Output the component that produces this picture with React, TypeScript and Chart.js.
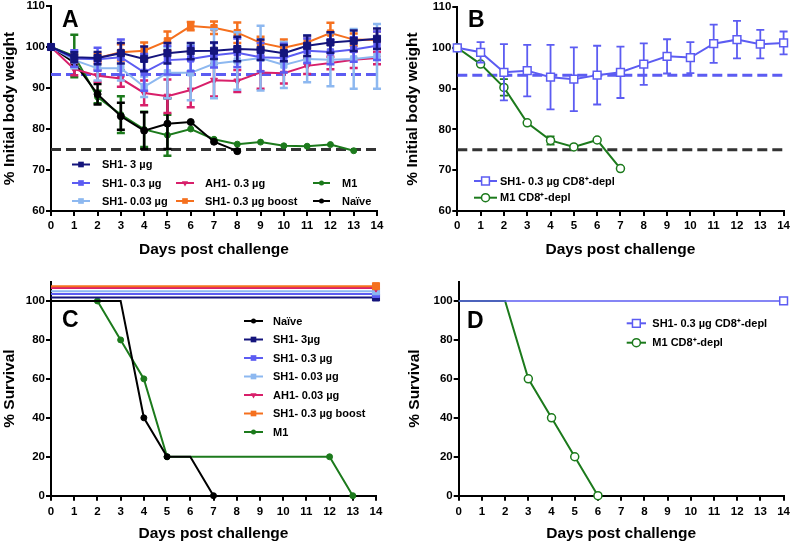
import React, { useEffect, useRef } from 'react';
import { Chart, registerables } from 'chart.js';

Chart.register(...registerables);

const FONT = "Arial, 'Liberation Sans', Helvetica, sans-serif";
Chart.defaults.font.family = FONT;

// ---------------- DATA ----------------
const days = [0, 1, 2, 3, 4, 5, 6, 7, 8, 9, 10, 11, 12, 13, 14];
const weightTicks = [60, 70, 80, 90, 100, 110];
const survivalTicks = [0, 20, 40, 60, 80, 100];
const xTitle = 'Days post challenge';
const weightTitle = '% Initial body weight';
const survivalTitle = '% Survival';

const seriesA = ['SH1- 3 µg', 'SH1- 0.3 µg', 'SH1- 0.03 µg', 'AH1- 0.3 µg', 'SH1- 0.3 µg boost', 'M1', 'Naïve'];
const seriesB = ['SH1- 0.3 µg CD8⁺-depl', 'M1 CD8⁺-depl'];
const seriesC = ['Naïve', 'SH1- 3µg', 'SH1- 0.3 µg', 'SH1- 0.03 µg', 'AH1- 0.03 µg', 'SH1- 0.3 µg boost', 'M1'];

// Panel A: mean % initial body weight and error
const sh1_3ug = [100, 97.5, 97.3, 98.5, 97.1, 98.5, 99.0, 99.1, 99.5, 99.3, 98.5, 100.3, 101.1, 101.5, 102.0];
const sh1_3ugErr = [0, 1.2, 1.5, 2.5, 3.0, 2.5, 2.0, 2.0, 3.0, 2.5, 2.0, 2.5, 2.5, 2.5, 2.5];
const sh1_03ug = [100, 97.2, 97.0, 97.5, 93.8, 96.8, 97.1, 98.0, 98.6, 97.5, 97.3, 99.1, 98.8, 99.4, 100.3];
const sh1_03ugErr = [0, 2.0, 2.8, 4.3, 4.5, 3.5, 3.0, 3.0, 3.5, 3.5, 3.5, 3.0, 3.0, 3.0, 3.5];
const sh1_003ug = [100, 96.8, 94.8, 94.8, 90.3, 93.7, 93.7, 95.9, 96.6, 97.3, 95.6, 97.1, 96.9, 97.1, 97.7];
const sh1_003ugErr = [0, 2.0, 3.0, 3.0, 2.5, 6.2, 6.7, 8.4, 7.0, 7.9, 5.6, 5.7, 6.5, 7.3, 7.9];
const ah1_03ug = [100, 94.6, 93.0, 92.3, 88.8, 88.0, 89.5, 91.9, 91.7, 93.8, 93.6, 95.4, 96.1, 96.9, 97.3];
const ah1_03ugErr = [0, 1.5, 1.5, 2.0, 3.0, 4.1, 4.2, 4.0, 2.7, 4.0, 2.5, 2.0, 1.5, 2.0, 1.5];
const sh1Boost = [100, 97.2, 97.3, 98.7, 99.1, 101.5, 105.1, 104.7, 103.5, 101.0, 99.8, 101.1, 103.4, 101.8, 101.7];
const sh1BoostErr = [0, 1.0, 1.0, 2.0, 2.0, 2.3, 1.0, 1.5, 2.5, 1.5, 2.0, 1.5, 2.5, 1.5, 2.0];
const m1 = [100, 97.8, 87.8, 83.5, 79.9, 78.5, 80.0, 77.5, 76.3, 76.8, 75.9, 75.8, 76.2, 74.7];
const m1Err = [0, 5.2, 1.5, 4.5, 4.3, 5.0, 0, 0, 0, 0, 0, 0, 0, 0];
const naive = [100, 96.2, 88.5, 83.1, 79.6, 81.3, 81.7, 76.9, 74.6];
const naiveErr = [0, 1.0, 2.5, 3.3, 4.5, 6.2, 0, 0, 0];

// reference (dashed) lines
const refBlue = 93.3;
const refBlack = 75;

// Panel B
const sh1CD8 = [100, 98.9, 94.0, 94.4, 92.8, 92.3, 93.3, 94.0, 96.0, 97.9, 97.6, 101.0, 102.0, 100.9, 101.2];
const sh1CD8Err = [0, 2.5, 6.9, 6.3, 7.9, 7.8, 7.2, 6.3, 5.1, 4.2, 3.8, 4.7, 4.6, 3.5, 2.8];
const m1CD8 = [100, 96.0, 90.3, 81.6, 77.3, 75.7, 77.4, 70.4];
const m1CD8Err = [0, 0, 2.0, 0, 1.0, 0, 0, 0];

// Panel C: survival (surviving groups are drawn offset above 100 % as in the figure)
const naiveSurvDays = [0, 3, 4, 5, 6, 7];
const naiveSurv = [100, 100, 40, 20, 20, 0];
const naiveSurvMarked = [4, 5, 7];
const m1SurvDays = [0, 2, 3, 4, 5, 12, 13];
const m1Surv = [100, 100, 80, 60, 20, 20, 0];
const m1SurvMarked = [2, 3, 4, 5, 12, 13];
const survivorDays = [0, 14];
const survivorMarked = [14];
const sh1_3ugSurv = [101.8, 101.8];
const sh1_03ugSurv = [103.6, 103.6];
const sh1_003ugSurv = [105.0, 105.0];
const ah1_003ugSurv = [106.6, 106.6];
const sh1BoostSurv = [107.6, 107.6];

// Panel D
const sh1CD8SurvDays = [0, 14];
const sh1CD8Surv = [100, 100];
const sh1CD8SurvMarked = [14];
const m1CD8SurvDays = [0, 2, 3, 4, 5, 6];
const m1CD8Surv = [100, 100, 60, 40, 20, 0];
const m1CD8SurvMarked = [3, 4, 5, 6];

// ---------------- STYLE ----------------
const NAVY = '#14147c';
const BLUE = '#5c5cf2';
const LIGHT = '#8db8f0';
const CRIMSON = '#d81f6a';
const ORANGE = '#f5701e';
const GREEN = '#1c7a1c';
const BLACK = '#000000';
const DASHGRAY = '#333333';

const tickFont = { family: FONT, size: 11.5, weight: 'bold' as const, lineHeight: 0.7 };
const titleFont = { family: FONT, size: 15.5, weight: 'bold' as const };

function drawMarker(ctx: CanvasRenderingContext2D, marker: string, x: number, y: number, r: number, color: string, filled: boolean) {
  ctx.beginPath();
  if (marker === 'rect') {
    const s = r * Math.SQRT1_2;
    ctx.rect(x - s, y - s, 2 * s, 2 * s);
  } else if (marker === 'triDown') {
    ctx.moveTo(x - r * 0.87, y - r * 0.5);
    ctx.lineTo(x + r * 0.87, y - r * 0.5);
    ctx.lineTo(x, y + r);
    ctx.closePath();
  } else {
    ctx.arc(x, y, r, 0, Math.PI * 2);
  }
  if (filled) {
    ctx.fillStyle = color;
    ctx.fill();
  } else {
    ctx.fillStyle = '#ffffff';
    ctx.fill();
    ctx.lineWidth = 1.5;
    ctx.strokeStyle = color;
    ctx.stroke();
  }
}

const decorPlugin = {
  id: 'decor',
  beforeDatasetDraw(chart: any, args: any) {
    const ds = chart.data.datasets[args.index];
    const errs: number[] | undefined = ds.errors;
    if (!errs) return;
    const meta = args.meta;
    const ys = chart.scales[meta.yAxisID];
    const ctx = chart.ctx as CanvasRenderingContext2D;
    ctx.save();
    ctx.strokeStyle = ds.borderColor;
    ctx.lineWidth = ds.errWidth || 2;
    const cap = ds.capHalf || 4;
    meta.data.forEach((el: any, i: number) => {
      const e = errs[i];
      if (!e) return;
      const v = ds.data[i].y;
      const x = el.x;
      const y1 = ys.getPixelForValue(v + e);
      const y2 = ys.getPixelForValue(v - e);
      ctx.beginPath();
      ctx.moveTo(x, y1);
      ctx.lineTo(x, y2);
      ctx.moveTo(x - cap, y1);
      ctx.lineTo(x + cap, y1);
      ctx.moveTo(x - cap, y2);
      ctx.lineTo(x + cap, y2);
      ctx.stroke();
    });
    ctx.restore();
  },
  afterDraw(chart: any, _a: any, opts: any) {
    const ctx = chart.ctx as CanvasRenderingContext2D;
    ctx.save();
    if (opts.letter) {
      ctx.fillStyle = '#000';
      ctx.font = `bold 23px ${FONT}`;
      ctx.textBaseline = 'alphabetic';
      ctx.textAlign = 'left';
      ctx.fillText(opts.letter.text, opts.letter.x, opts.letter.y);
    }
    const items = opts.items || [];
    for (let i = 0; i < items.length; i++) {
      const it = items[i];
      ctx.strokeStyle = it.color;
      ctx.lineWidth = 2;
      ctx.beginPath();
      ctx.moveTo(it.x0, it.y);
      ctx.lineTo(it.x1, it.y);
      ctx.stroke();
      drawMarker(ctx, it.marker, (it.x0 + it.x1) / 2, it.y, it.r, it.color, it.filled);
      ctx.fillStyle = '#000';
      ctx.font = `bold 11px ${FONT}`;
      ctx.textBaseline = 'middle';
      ctx.textAlign = 'left';
      ctx.fillText(it.label, it.tx, it.y + 0.5);
    }
    ctx.restore();
  },
};

function pts(xs: number[], ys: number[]) {
  return ys.map((y, i) => ({ x: xs[i], y }));
}

function series(label: string, xs: number[], ys: number[], color: string, style: string, r: number, extra: any = {}) {
  return {
    label,
    data: pts(xs, ys),
    borderColor: color,
    backgroundColor: color,
    pointBackgroundColor: color,
    pointBorderColor: color,
    pointStyle: style,
    pointRadius: r,
    pointBorderWidth: 1,
    borderWidth: 2,
    tension: 0,
    clip: 12,
    ...extra,
  };
}

function refLine(v: number, color: string) {
  return {
    label: '',
    data: [{ x: days[0], y: v }, { x: days[days.length - 1], y: v }],
    borderColor: color,
    borderWidth: 3,
    borderDash: [10, 5],
    pointRadius: 0,
    tension: 0,
  };
}

function markedRadius(marked: number[], r: number) {
  return (c: any) => (c.raw && marked.includes(c.raw.x) ? r : 0);
}

function axisX(height: number, titlePad: number, tickPad: number) {
  return {
    type: 'linear' as const,
    min: 0,
    max: 14,
    afterBuildTicks: (s: any) => { s.ticks = days.map((v) => ({ value: v })); },
    ticks: { color: '#000', font: { ...tickFont, lineHeight: 1.2 }, padding: tickPad, maxRotation: 0, autoSkip: false },
    grid: { drawOnChartArea: false, color: '#000', lineWidth: 2, tickLength: 5 },
    border: { color: '#000', width: 2 },
    title: { display: true, text: xTitle, color: '#000', font: titleFont, padding: { top: 0, bottom: titlePad } },
    afterFit: (s: any) => { s.height = height; },
  };
}

function axisY(width: number, min: number, max: number, ticks: number[], title: string, titlePad: number) {
  return {
    type: 'linear' as const,
    min,
    max,
    afterBuildTicks: (s: any) => { s.ticks = ticks.map((v) => ({ value: v })); },
    ticks: { color: '#000', font: tickFont, padding: 1 },
    grid: { drawOnChartArea: false, color: '#000', lineWidth: 2, tickLength: 5 },
    border: { color: '#000', width: 2 },
    title: { display: true, text: title, color: '#000', font: titleFont, padding: { top: titlePad, bottom: 0 } },
    afterFit: (s: any) => { s.width = width; },
  };
}

function baseOptions(padding: any, xs: any, ys: any, decor: any) {
  return {
    responsive: false,
    animation: false as const,
    events: [],
    layout: { padding },
    plugins: { legend: { display: false }, tooltip: { enabled: false }, decor },
    scales: { x: xs, y: ys },
  };
}

function legendItem(label: string, color: string, marker: string, filled: boolean, r: number, x0: number, x1: number, tx: number, y: number) {
  return { label, color, marker, filled, r, x0, x1, tx, y };
}

// ---------------- CONFIGS ----------------
function makeA(): any {
  const ds = [
    series(seriesA[0], days, sh1_3ug, NAVY, 'rect', 5, { errors: sh1_3ugErr, errWidth: 2.5, capHalf: 4 }),
    series(seriesA[1], days, sh1_03ug, BLUE, 'rect', 4.5, { errors: sh1_03ugErr, errWidth: 2.5, capHalf: 4 }),
    series(seriesA[2], days, sh1_003ug, LIGHT, 'rect', 4.5, { errors: sh1_003ugErr, errWidth: 2.5, capHalf: 4 }),
    series(seriesA[4], days, sh1Boost, ORANGE, 'rect', 4.5, { errors: sh1BoostErr, errWidth: 2.5, capHalf: 4 }),
    series(seriesA[3], days, ah1_03ug, CRIMSON, 'triangle', 4, { rotation: 180, errors: ah1_03ugErr, errWidth: 2.5, capHalf: 4 }),
    series(seriesA[6], days, naive, BLACK, 'circle', 3.5, { errors: naiveErr, errWidth: 2.5, capHalf: 4 }),
    series(seriesA[5], days, m1, GREEN, 'circle', 3, { errors: m1Err, errWidth: 2.5, capHalf: 4 }),
    refLine(refBlue, BLUE),
    refLine(refBlack, DASHGRAY),
  ];
  const items = [
    legendItem(seriesA[0], NAVY, 'rect', true, 4, 72, 90, 102, 164.5),
    legendItem(seriesA[1], BLUE, 'rect', true, 4, 72, 90, 102, 183),
    legendItem(seriesA[2], LIGHT, 'rect', true, 4, 72, 90, 102, 201),
    legendItem(seriesA[3], CRIMSON, 'triDown', true, 3.5, 176, 194, 205, 183),
    legendItem(seriesA[4], ORANGE, 'rect', true, 4, 176, 194, 205, 201),
    legendItem(seriesA[5], GREEN, 'circle', true, 2.5, 313, 330, 342, 183),
    legendItem(seriesA[6], BLACK, 'circle', true, 2.5, 313, 330, 342, 201),
  ];
  return {
    type: 'line',
    data: { datasets: ds },
    options: baseOptions({ top: 5, right: 18, left: 0, bottom: 0 }, axisX(51, 2.5, 3), axisY(51, 60, 110, weightTicks, weightTitle, 0), {
      letter: { text: 'A', x: 62, y: 26.5 },
      items,
    }),
    plugins: [decorPlugin],
  };
}

function makeB(): any {
  const ds = [
    series(seriesB[0], days, sh1CD8, BLUE, 'rect', 5.5, { pointBackgroundColor: '#ffffff', pointBorderWidth: 1.5, errors: sh1CD8Err, errWidth: 1.8, capHalf: 4 }),
    series(seriesB[1], days, m1CD8, GREEN, 'circle', 4, { pointBackgroundColor: '#ffffff', pointBorderWidth: 1.5, errors: m1CD8Err, errWidth: 1.8, capHalf: 4 }),
    refLine(refBlue, BLUE),
    refLine(refBlack, DASHGRAY),
  ];
  const items = [
    legendItem(seriesB[0], BLUE, 'rect', false, 5.5, 79, 102, 105, 181),
    legendItem(seriesB[1], GREEN, 'circle', false, 4, 79, 102, 105, 197.7),
  ];
  return {
    type: 'line',
    data: { datasets: ds },
    options: baseOptions({ top: 5, right: 7, left: 0, bottom: 0 }, axisX(51, 2.5, 3), axisY(62.3, 60, 110, weightTicks, weightTitle, 8.7), {
      letter: { text: 'B', x: 73, y: 26.5 },
      items,
    }),
    plugins: [decorPlugin],
  };
}

function makeC(): any {
  const ds = [
    series(seriesC[5], survivorDays, sh1BoostSurv, ORANGE, 'rect', 5, { pointRadius: markedRadius(survivorMarked, 5) }),
    series(seriesC[4], survivorDays, ah1_003ugSurv, CRIMSON, 'triangle', 4, { rotation: 180, pointRadius: markedRadius(survivorMarked, 4) }),
    series(seriesC[3], survivorDays, sh1_003ugSurv, LIGHT, 'rect', 5, { pointRadius: markedRadius(survivorMarked, 5) }),
    series(seriesC[2], survivorDays, sh1_03ugSurv, BLUE, 'rect', 5, { pointRadius: markedRadius(survivorMarked, 5) }),
    series(seriesC[1], survivorDays, sh1_3ugSurv, NAVY, 'rect', 5, { pointRadius: markedRadius(survivorMarked, 5) }),
    series(seriesC[0], naiveSurvDays, naiveSurv, BLACK, 'circle', 3, { pointRadius: markedRadius(naiveSurvMarked, 3) }),
    series(seriesC[6], m1SurvDays, m1Surv, GREEN, 'circle', 3, { pointRadius: markedRadius(m1SurvMarked, 3) }),
  ];
  const rowY = [51, 69.5, 88, 106.5, 125, 143.5, 162];
  const items = [
    legendItem(seriesC[0], BLACK, 'circle', true, 2.5, 244, 263, 273, rowY[0]),
    legendItem(seriesC[1], NAVY, 'rect', true, 4, 244, 263, 273, rowY[1]),
    legendItem(seriesC[2], BLUE, 'rect', true, 4, 244, 263, 273, rowY[2]),
    legendItem(seriesC[3], LIGHT, 'rect', true, 4, 244, 263, 273, rowY[3]),
    legendItem(seriesC[4], CRIMSON, 'triDown', true, 3.5, 244, 263, 273, rowY[4]),
    legendItem(seriesC[5], ORANGE, 'rect', true, 4, 244, 263, 273, rowY[5]),
    legendItem(seriesC[6], GREEN, 'circle', true, 2.5, 244, 263, 273, rowY[6]),
  ];
  return {
    type: 'line',
    data: { datasets: ds },
    options: baseOptions({ top: 11.5, right: 19, left: 0, bottom: 0 }, axisX(46.3, -1.5, 4), axisY(51, 0, 110, survivalTicks, survivalTitle, 0), {
      letter: { text: 'C', x: 62, y: 56.5 },
      items,
    }),
    plugins: [decorPlugin],
  };
}

function makeD(): any {
  const ds = [
    series(seriesB[0], sh1CD8SurvDays, sh1CD8Surv, BLUE, 'rect', 5.5, { borderWidth: 1.5, pointBackgroundColor: '#ffffff', pointBorderWidth: 1.5, pointRadius: markedRadius(sh1CD8SurvMarked, 5.5) }),
    series(seriesB[1], m1CD8SurvDays, m1CD8Surv, GREEN, 'circle', 4, { pointBackgroundColor: '#ffffff', pointBorderWidth: 1.5, pointRadius: markedRadius(m1CD8SurvMarked, 4) }),
  ];
  const items = [
    legendItem(seriesB[0], BLUE, 'rect', false, 5.5, 231.7, 251, 257.3, 53.3),
    legendItem(seriesB[1], GREEN, 'circle', false, 4, 231.7, 251, 257.3, 72.7),
  ];
  return {
    type: 'line',
    data: { datasets: ds },
    options: baseOptions({ top: 11.5, right: 7, left: 0, bottom: 0 }, axisX(46.3, -1.5, 4), axisY(63.7, 0, 110, survivalTicks, survivalTitle, 10.7), {
      letter: { text: 'D', x: 72, y: 58 },
      items,
    }),
    plugins: [decorPlugin],
  };
}

function Panel({ left, top, width, height, make }: { left: number; top: number; width: number; height: number; make: () => any }) {
  const ref = useRef<HTMLCanvasElement>(null);
  useEffect(() => {
    const chart = new Chart(ref.current as HTMLCanvasElement, make());
    return () => chart.destroy();
  }, []);
  return (
    <div style={{ position: 'absolute', left, top, width, height }}>
      <canvas ref={ref} width={width} height={height} style={{ display: 'block', width, height }} />
    </div>
  );
}

export default function App() {
  return (
    <div style={{ position: 'absolute', left: 0, top: 0, width: 791, height: 542, background: '#fff', overflow: 'hidden' }}>
      <Panel left={0} top={0} width={395} height={262} make={makeA} />
      <Panel left={395} top={0} width={398} height={262} make={makeB} />
      <Panel left={0} top={270} width={395} height={272} make={makeC} />
      <Panel left={395} top={270} width={399} height={272} make={makeD} />
    </div>
  );
}
